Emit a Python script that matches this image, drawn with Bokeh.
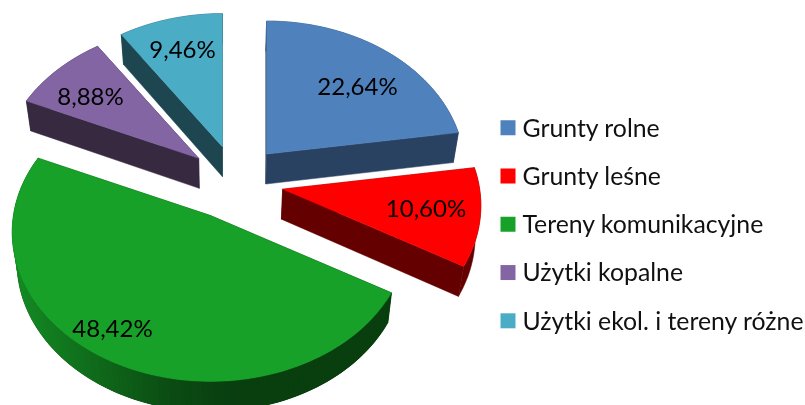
import numpy as np
from bokeh.core.properties import value
from bokeh.embed import file_html
from bokeh.models import Range1d
from bokeh.plotting import figure
from bokeh.resources import INLINE

categories = ["Grunty rolne", "Grunty leśne", "Tereny komunikacyjne", "Użytki kopalne", "Użytki ekol. i tereny różne"]
shares = [22.64, 10.60, 48.42, 8.88, 9.46]
share_labels = ["22,64%", "10,60%", "48,42%", "8,88%", "9,46%"]

top_colors = ["#4f81bd", "#ff0000", "#17a128", "#8365a4", "#4bacc6"]
wall_colors = ["#2a4262", "#640000", "#064009", "#362940", "#1d4650"]

# projection of the tilted pie
CX, CY = 232.5, 181.8
RX, RY, PERSP = 197.0, 147.6, 0.11
EXPLODE_X, EXPLODE_Y = 50.0, 37.3
nudge_x = [1.0, 0.5, 0.0, 4.0, 4.0]
DEPTH = 30.0
VANISH_X, BOTTOM_SCALE = 225.0, 0.978
label_xy = [(357, 85), (425.5, 207), (112, 326.5), (90, 95), (182, 48)]
LEG_BOX_X, LEG_TEXT_X, LEG_Y0, LEG_STEP, LEG_TEXT_DY = 507.5, 522, 127.3, 48.25, -0.8
FONT = value("Lato")
PCT_SIZE, LEG_SIZE = "24px", "24.8px"

green_x = [15, 83, 167, 230]
green_f = [0.85, 0.68, 0.47, 0.39]
green_base = np.array([24, 162, 41])


def rim(theta, ax, ay):
    c = np.cos(theta)
    s = 1 / (1 + PERSP * c)
    return ax + RX * np.sin(theta) * s, ay - RY * c * s


def lower(x, y):
    return VANISH_X + (np.asarray(x) - VANISH_X) * BOTTOM_SCALE, np.asarray(y) + DEPTH


W, H = 805, 405
p = figure(width=W, height=H, output_backend="svg", toolbar_location=None,
           x_range=Range1d(0, W), y_range=Range1d(H, 0), min_border=0,
           outline_line_color=None, background_fill_color="white",
           border_fill_color="white",
           styles={"position": "fixed", "left": "0px", "top": "0px"})
p.axis.visible = False
p.grid.visible = False

edges = np.cumsum([0] + shares) / sum(shares) * 2 * np.pi
faces = []
for i in [4, 3, 0, 1, 2]:
    a0, a1 = edges[i], edges[i + 1]
    mid = (a0 + a1) / 2
    ax = CX + EXPLODE_X * np.sin(mid) + nudge_x[i]
    ay = CY - EXPLODE_Y * np.cos(mid)
    th = np.linspace(a0, a1, max(8, int((a1 - a0) * 40)))
    rx_, ry_ = rim(th, ax, ay)
    lx, ly = lower(rx_, ry_)
    bax, bay = lower(ax, ay)

    # radial walls
    for k in (0, -1):
        p.patch([ax, rx_[k], lx[k], bax], [ay, ry_[k], ly[k], bay],
                fill_color=wall_colors[i], line_color=wall_colors[i], line_width=0.5)
    # outer wall: one solid piece, the green one shaded by overlapping bands
    p.patch([*rx_, *lx[::-1]], [*ry_, *ly[::-1]], fill_color=wall_colors[i],
            line_color=wall_colors[i], line_width=0.5)
    if i == 2:
        xs, ys, cols = [], [], []
        for j in range(2, len(th)):
            xs.append([rx_[j], rx_[j - 2], lx[j - 2], lx[j]])
            ys.append([ry_[j], ry_[j - 2], ly[j - 2], ly[j]])
            f = np.interp(rx_[j - 1], green_x, green_f)
            r, g, b = (green_base * f).astype(int)
            cols.append(f"#{r:02x}{g:02x}{b:02x}")
        p.patches(xs, ys, fill_color=cols, line_color=None)
    faces.append((i, [ax, *rx_], [ay, *ry_]))

for i, fx, fy in faces:
    p.patch(fx, fy, fill_color=top_colors[i], line_color=top_colors[i], line_width=0.5)

p.text([q[0] for q in label_xy], [q[1] for q in label_xy], text=share_labels,
       text_font=FONT, text_font_size=PCT_SIZE, text_align="center",
       text_baseline="middle", text_color="#000000")

rows = [LEG_Y0 + n * LEG_STEP for n in range(len(categories))]
p.rect([LEG_BOX_X] * len(categories), rows, width=15, height=15,
       fill_color=top_colors, line_color=None)
p.text([LEG_TEXT_X] * len(categories), [r + LEG_TEXT_DY for r in rows], text=categories,
       text_font=FONT, text_font_size=LEG_SIZE, text_align="left",
       text_baseline="middle", text_color="#111111")

open("out.html", "w").write(file_html(p, INLINE))
